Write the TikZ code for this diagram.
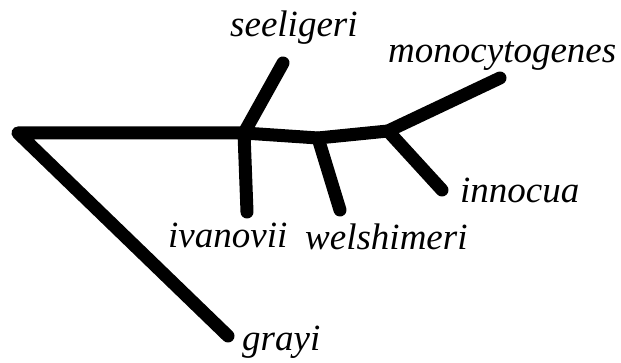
\documentclass[tikz,border=0pt]{standalone}
\usepackage{fontspec}
\setmainfont{Liberation Serif}
\usepackage{tikz}
\definecolor{ink}{HTML}{000000}
\tikzset{
  branch/.style={line width=13pt,ink,line cap=round,line join=round},
  species/.style={anchor=base west,inner sep=0pt,font=\fontsize{37}{40}\selectfont\itshape}
}

\begin{document}
\begin{tikzpicture}[x=1pt,y=-1pt]
  \useasboundingbox (0,0) rectangle (621,363);
  % inner nodes of the tree
  \coordinate (root) at (18,133);
  \coordinate (nA) at (244,133);
  \coordinate (nB) at (318,138);
  \coordinate (nC) at (388,131);
  % leaf tips
  \coordinate (tSee) at (283,63);
  \coordinate (tIva) at (247,212);
  \coordinate (tWel) at (340,210);
  \coordinate (tMon) at (500,78);
  \coordinate (tInn) at (442,190);
  \coordinate (tGra) at (228,336);
  \draw[branch] (tGra) -- (root) -- (nA) -- (nB) -- (nC) -- (tMon);
  \draw[branch] (nA) -- (tSee);
  \draw[branch] (nA) -- (tIva);
  \draw[branch] (nB) -- (tWel);
  \draw[branch] (nC) -- (tInn);
  % species names
  \node[species] (lSee) at (230,37) {seeligeri};
  \node[species] (lMon) at (388,63) {monocytogenes};
  \node[species] (lInn) at (460,203) {innocua};
  \node[species] (lIva) at (168,248) {ivanovii};
  \node[species] (lWel) at (305,250) {welshimeri};
  \node[species] (lGra) at (242,350) {grayi};
\end{tikzpicture}
\end{document}
